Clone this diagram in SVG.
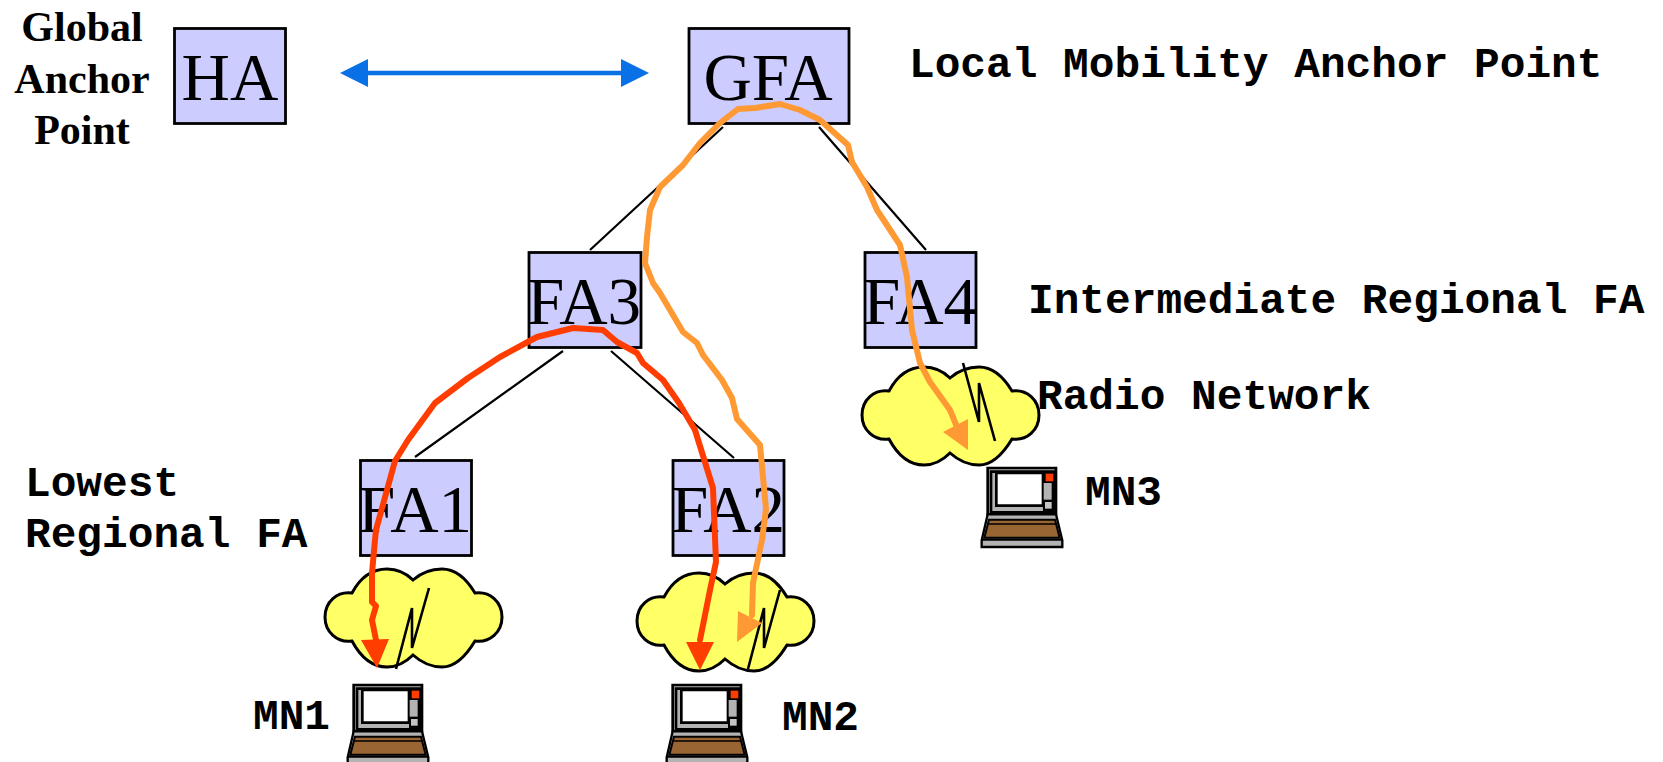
<svg xmlns="http://www.w3.org/2000/svg" xmlns:xlink="http://www.w3.org/1999/xlink" width="1663" height="762" viewBox="0 0 1663 762">
<style>
.box{fill:#ccccff;stroke:#000;stroke-width:2.8}
.ft{font-family:"Liberation Serif","Times New Roman",serif;font-size:67px;fill:#000;text-anchor:middle}
.gl{font-family:"Liberation Serif","Times New Roman",serif;font-size:42px;font-weight:bold;fill:#000;text-anchor:middle}
.lb{font-family:"Liberation Mono","Courier New",monospace;font-size:42.8px;font-weight:bold;fill:#000}
.ln{fill:none;stroke:#000;stroke-width:2.2}
.cl{fill:#ffff66;stroke:#000;stroke-width:3}
.bolt{fill:none;stroke:#000;stroke-width:2.6}
.red{fill:none;stroke:#ff3d00;stroke-width:6;stroke-linejoin:round;stroke-linecap:round}
.or{fill:none;stroke:#ff9933;stroke-width:6;stroke-linejoin:round;stroke-linecap:round}
</style>
<defs>
<g id="cloud"><path class="cl" d="M113 40C122 32 132 29 142 29C155 29 166 38 175 53C190 51 202 62 202 77C202 92 190 103 175 101C166 116 155 127 142 127C132 127 122 123 113 115C105 123 95 127 87 127C72 127 60 116 52 101C37 103 25 92 25 77C25 62 37 51 52 53C60 38 72 29 87 29C95 29 105 32 113 40Z"/></g>
<g id="laptop" transform="scale(0.3333)">
<path d="M20 3H225V142H20Z" fill="#b3b3b3" stroke="#000" stroke-width="8"/>
<path d="M30 14H220V136H30Z" fill="#b3b3b3" stroke="#000" stroke-width="8"/>
<path d="M46 18H186V116H46Z" fill="#fff" stroke="#000" stroke-width="8"/>
<path d="M186 14H220V136H186Z" fill="#000"/>
<path d="M46 122H186V130H46Z" fill="#b3b3b3"/>
<rect x="188" y="48" width="24" height="50" fill="#b3b3b3"/>
<rect x="194" y="20" width="23" height="23" fill="#ff3d00"/>
<rect x="192" y="105" width="20" height="20" fill="#c4c4c4"/>
<path d="M20 142H225L244 220V240H2V220Z" fill="#b3b3b3" stroke="#000" stroke-width="7"/>
<path d="M24 158H222L236 212H10Z" fill="#996633" stroke="#000" stroke-width="6"/>
<path d="M22 171H224" fill="none" stroke="#000" stroke-width="5"/>
<path d="M2 218H244" fill="none" stroke="#000" stroke-width="7"/>
</g>
</defs>
<g id="connectors">
<path class="ln" d="M723 127L590 250M819 127L926 250M563 351L415 457M611 351L734 458"/>
<g id="link-ha-gfa"><path d="M366 73H622" stroke="#0a70e6" stroke-width="4.500" fill="none"/><path d="M340 73L368 59V87Z" fill="#0a70e6"/><path d="M649 73L621 59V87Z" fill="#0a70e6"/></g>
</g>
<g id="HA"><rect class="box" x="174.500" y="28.500" width="111" height="95"/><text class="ft" x="230" y="100">HA</text></g>
<g id="GFA"><rect class="box" x="689" y="28.500" width="160" height="95"/><text class="ft" x="768" y="100">GFA</text></g>
<g id="FA3"><rect class="box" x="529" y="252.500" width="112" height="95"/><text class="ft" x="584" y="324">FA3</text></g>
<g id="FA4"><rect class="box" x="865" y="252.500" width="111" height="95"/><text class="ft" x="920" y="324">FA4</text></g>
<g id="FA1"><rect class="box" x="360.500" y="460.500" width="111" height="95"/><text class="ft" x="415" y="532">FA1</text></g>
<g id="FA2"><rect class="box" x="673" y="460.500" width="111" height="95"/><text class="ft" x="728" y="532">FA2</text></g>
<g id="cloud1"><use xlink:href="#cloud" href="#cloud" transform="translate(300,540)"/><path class="bolt" d="M429 588L412 648V608L396 669"/></g>
<g id="cloud2"><use xlink:href="#cloud" href="#cloud" transform="translate(612,544)"/><path class="bolt" d="M780 590L764 648V608L748 669"/></g>
<g id="cloud3"><use xlink:href="#cloud" href="#cloud" transform="translate(837,338)"/><path class="bolt" d="M963 363L979 422V383L995 441"/></g>
<g id="MN1"><use xlink:href="#laptop" href="#laptop" transform="translate(347,684)"/><text class="lb" x="253" y="729">MN1</text></g>
<g id="MN2"><use xlink:href="#laptop" href="#laptop" transform="translate(666,684)"/><text class="lb" x="782" y="730">MN2</text></g>
<g id="MN3"><use xlink:href="#laptop" href="#laptop" transform="translate(981,467)"/><text class="lb" x="1085" y="505">MN3</text></g>
<g id="labels">
<text class="gl" x="82" y="41">Global</text><text class="gl" x="82" y="93">Anchor</text><text class="gl" x="82" y="144">Point</text>
<text class="lb" x="909" y="77">Local Mobility Anchor Point</text>
<text class="lb" x="1028" y="313">Intermediate Regional FA</text>
<text class="lb" x="1037" y="409">Radio Network</text>
<text class="lb" x="25" y="496">Lowest</text>
<text class="lb" x="25" y="547">Regional FA</text>
</g>
<g id="routes">
<path class="or" d="M752 615L753 583L762 540L766 509L760 445L737 419L732 398L722 380L703 355L697 343L683 332L660 293L653 283L645 263L647 237L650 210L660 187L683 165L700 143L720 123L738 109L755 108L780 104L800 110L820 120L848 145L852 162L867 187L877 210L900 245L907 277L912 330L920 363L930 382L950 410L957 427"/>
<path d="M738 611L737 642L762 623Z" fill="#ff9933"/>
<path d="M943 432L968 419V450Z" fill="#ff9933"/>
<path class="red" d="M700 640L710 590L716 562L713 488L695 430L679 403L663 380L643 363L637 353L617 342L603 330L573 328L537 337L500 357L468 378L435 403L408 440L395 461L376 530L375 540L372 573L372 602L376 606L372 620L376 640"/>
<path d="M686 642H714L700 670Z" fill="#ff3d00"/>
<path d="M361 640L389 639L377 668Z" fill="#ff3d00"/>
</g>
</svg>
